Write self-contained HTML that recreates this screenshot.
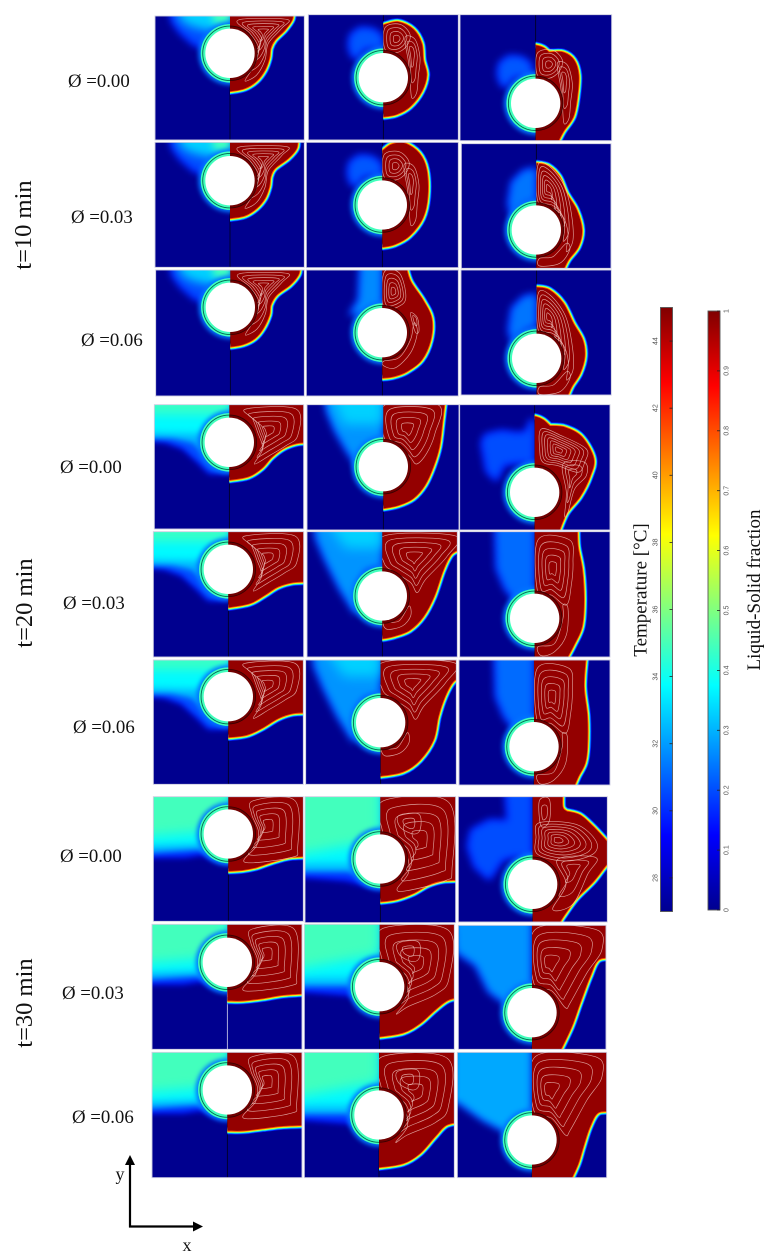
<!DOCTYPE html>
<html lang="en">
<head>
<meta charset="utf-8">
<title>Melting fields around a cylinder</title>
<style>
html,body{margin:0;padding:0;background:#fff;width:776px;height:1260px;overflow:hidden}
svg{display:block}
text{font-family:"Liberation Serif",serif;fill:#111}
.tick{font-family:"Liberation Sans",sans-serif;font-size:7px;fill:#555}
</style>
</head>
<body>
<svg id="figure" xmlns="http://www.w3.org/2000/svg" width="776" height="1260" viewBox="0 0 776 1260">
  <defs id="defs"></defs>
  <g id="panels" style="filter:blur(0.35px)"></g>
  <g id="labels"></g>
  <g id="bars"></g>
  <g>
    <line x1="130" y1="1227.5" x2="130" y2="1162" stroke="#000" stroke-width="2.2"/>
    <polygon points="130,1155 135,1165 125,1165" fill="#000"/>
    <line x1="129" y1="1226.5" x2="195" y2="1226.5" stroke="#000" stroke-width="2.2"/>
    <polygon points="203,1226.5 193,1221.5 193,1231.5" fill="#000"/>
    <text x="120" y="1180" font-size="18" text-anchor="middle">y</text>
    <text x="187" y="1251" font-size="18" text-anchor="middle">x</text>
  </g>
</svg>
<script>
// ---- labels and ticks ----
const phiLabels = ["Ø =0.00","Ø =0.03","Ø =0.06","Ø =0.00","Ø =0.03","Ø =0.06","Ø =0.00","Ø =0.03","Ø =0.06"];
const timeLabels = ["t=10 min","t=20 min","t=30 min"];
const temperatureTicks = [44,42,40,38,36,34,32,30,28];
const fractionTicks = [0,0.1,0.2,0.3,0.4,0.5,0.6,0.7,0.8,0.9,1];
const temperatureDomain = [27,45];
const fractionDomain = [0,1];

// ---- field geometry, in field units (3 units = 1 px), one block of nine panels per time step ----
const blockOrigins = [[150,10],[150,400],[150,790]];
const panelExtents = [
 [15,18,463,390],[475,14,925,390],[930,14,1385,392],
 [15,397,463,772],[469,397,925,773],[934,401,1383,775],
 [17,780,463,1158],[469,780,925,1158],[933,780,1384,1155],
 [13,14,461,387],[471,14,927,390],[929,14,1380,390],
 [10,395,461,771],[471,395,922,771],[929,395,1380,771],
 [10,780,460,1153],[467,780,919,1153],[927,780,1380,1155],
 [10,20,460,394],[465,20,917,398],[925,20,1372,396],
 [6,403,456,778],[463,403,913,778],[925,406,1368,778],
 [6,787,456,1163],[463,787,913,1163],[922,787,1370,1163]
];
const cylinderCentres = [
 [240,130],[700,203],[1157,280],
 [240,512],[697,585],[1159,660],
 [241,892],[697,968],[1160,1045],
 [238,127],[700,200],[1154,277],
 [235,508],[697,588],[1154,655],
 [235,890],[692,968],[1152,1040],
 [235,132],[691,207],[1148,283],
 [232,517],[689,590],[1146,668],
 [232,900],[687,975],[1146,1050]
];
const cylinderRadius = 74;

// melt front outlines (third value marks a sharp corner)
const meltFronts = [
 [[220,0,1],[428,0,1],[427,28],[405,60],[375,90],[362,115],[358,145],[345,180],[320,213],[285,235],[240,244],[220,245,1]],
 [[680,47,1],[700,45],[745,36],[790,58],[815,100],[820,150],[830,195],[815,245],[780,290],[740,313],[700,320],[680,320,1]],
 [[1137,106,1],[1158,106],[1180,113],[1197,127,1],[1240,127],[1272,150],[1286,195],[1282,260],[1270,320],[1240,365],[1222,400,1],[1137,400,1]],
 [[220,385,1],[443,385,1],[440,415],[415,445],[375,475],[362,500],[358,530],[345,565],[320,595],[285,617],[240,625],[220,626,1]],
 [[677,425,1],[697,422],[725,403],[765,400],[808,430],[830,480],[833,560],[818,625],[778,678],[735,703],[697,711],[677,711,1]],
 [[1139,460,1],[1159,460],[1195,468],[1228,500],[1250,550],[1280,600],[1296,660],[1285,710],[1255,750],[1238,785,1],[1139,785,1]],
 [[221,770,1],[450,770,1],[445,795],[420,825],[380,855],[362,885],[358,915],[340,955],[315,985],[280,1003],[241,1010],[221,1010,1]],
 [[677,770,1],[768,770,1],[782,815],[820,872],[845,925],[842,990],[815,1050],[770,1085],[730,1100],[697,1104],[677,1104,1]],
 [[1140,832,1],[1160,832],[1198,840],[1240,880],[1270,940],[1298,990],[1304,1040],[1290,1090],[1265,1130],[1250,1165,1],[1140,1165,1]],
 [[218,0,1],[480,0,1],[480,127,1],[440,130],[400,145],[365,172],[335,205],[295,230],[238,240],[218,240,1]],
 [[680,0,1],[885,0,1],[878,60],[868,140],[850,200],[825,255],[790,295],[745,316],[700,325],[680,325,1]],
 [[1134,50,1],[1156,50],[1180,60],[1200,78,1],[1245,82],[1295,110],[1331,175],[1320,230],[1290,290],[1250,340],[1225,400,1],[1134,400,1]],
 [[215,385,1],[480,385,1],[480,545,1],[430,547],[385,560],[345,585],[300,610],[235,622],[215,622,1]],
 [[677,385,1],[940,385,1],[940,445,1],[905,462],[880,510],[852,590],[820,650],[780,690],[735,708],[697,716],[677,716,1]],
 [[1134,385,1],[1282,385,1],[1284,440],[1297,510],[1302,600],[1296,680],[1272,735],[1248,780,1],[1134,780,1]],
 [[215,770,1],[480,770,1],[480,938,1],[430,940],[385,955],[335,985],[290,1005],[235,1012],[215,1012,1]],
 [[672,770,1],[940,770,1],[940,830,1],[910,845],[885,890],[865,950],[850,1020],[810,1080],[760,1115],[692,1128],[672,1128,1]],
 [[1132,770,1],[1308,770,1],[1302,860],[1312,950],[1312,1040],[1305,1090],[1285,1130],[1272,1160,1],[1132,1160,1]],
 [[215,0,1],[480,0,1],[480,199,1],[420,202],[370,215],[320,232],[280,240],[235,243],[215,243,1]],
 [[671,0,1],[940,0,1],[940,270,1],[880,272],[835,285],[790,310],[740,328],[691,335],[671,335,1]],
 [[1128,0,1],[1238,0,1],[1238,50],[1250,64,1],[1290,75],[1330,110],[1372,155,1],[1390,170,1],[1390,215,1],[1372,222],[1330,275],[1280,325],[1240,380],[1222,410,1],[1128,410,1]],
 [[212,385,1],[480,385,1],[480,610,1],[400,615],[340,625],[280,632],[232,632],[212,632,1]],
 [[669,385,1],[940,385,1],[940,620,1],[895,630],[855,660],[810,700],[760,728],[689,740],[669,740,1]],
 [[1126,385,1],[1390,385,1],[1390,503,1],[1345,510],[1320,560],[1290,640],[1265,710],[1232,780,1],[1126,780,1]],
 [[212,770,1],[480,770,1],[480,1005,1],[400,1008],[340,1015],[280,1022],[232,1022],[212,1022,1]],
 [[667,770,1],[940,770,1],[940,995,1],[890,1005],[855,1040],[810,1090],[760,1120],[687,1132],[667,1132,1]],
 [[1126,770,1],[1390,770,1],[1390,965,1],[1345,968],[1320,1010],[1300,1070],[1285,1120],[1265,1165,1],[1126,1165,1]]
];

// temperature plumes: each layer = [colour level 0..1, softness, outline relative to divider and panel top]
const plumeShapes = [
 [[0.2,4,[[-185,-60],[0,-60],[0,90],[-70,100],[-110,85],[-150,50],[-175,15]]],[0.33,5,[[-160,-60],[0,-60],[0,40],[-60,45],[-115,32],[-150,12]]],[0.44,4,[[-75,-60],[0,-60],[0,28],[-45,26]]]],
 [[0.21,4,[[-105,95],[-100,60],[-70,38],[-30,42],[-5,60],[0,85],[0,105],[-40,100],[-65,110],[-75,135],[-95,125]]]],
 [[0.24,4,[[0,72],[-40,80],[-75,115],[-85,180],[-75,220],[-30,180],[0,170]]]],
 [[0.26,4,[[-65,-60],[0,-60],[0,110],[-30,130],[-100,135],[-85,110],[-72,90]]]],
 [[0.2,3,[[-260,-60],[0,-60],[0,205],[-60,205],[-95,170],[-140,130],[-190,112],[-260,105]]],[0.3,3,[[-260,-60],[0,-60],[0,150],[-70,150],[-110,115],[-170,100],[-260,98]]],[0.37,4,[[-260,-60],[0,-60],[0,70],[-100,88],[-260,85]]],[0.43,5,[[-260,-60],[0,-60],[0,30],[-130,30],[-260,30]]]],
 [[0.27,4,[[-180,-60],[0,-60],[0,130],[-70,200],[-110,140],[-145,80],[-170,20]]],[0.33,6,[[-170,-60],[0,-60],[0,60],[-120,60]]]],
 [[0.2,4,[[-160,115],[-150,90],[-100,78],[-50,85],[-25,80],[-15,48],[0,45],[0,180],[-40,175],[-90,180],[-115,230],[-145,200]]]],
 [[0.2,4,[[-195,150],[-185,100],[-130,70],[-75,72],[-85,-60],[0,-60],[0,185],[-50,180],[-90,190],[-130,250],[-175,210]]]],
 [[0.27,4,[[-210,-60],[0,-60],[0,110],[-50,120],[-80,250],[-130,170],[-170,90],[-200,20]]],[0.33,6,[[-190,-60],[0,-60],[0,50],[-110,50]]]],
 [[0.23,4,[[-120,-60],[0,-60],[0,185],[-55,215],[-90,170],[-115,110]]]],
 [[0.18,3,[[-260,-60],[0,-60],[0,200],[-40,190],[-80,172],[-130,180],[-260,180]]],[0.29,3,[[-260,-60],[0,-60],[0,185],[-50,175],[-90,158],[-260,170]]],[0.37,4,[[-260,-60],[0,-60],[0,140],[-90,145],[-260,150]]],[0.44,6,[[-260,-60],[0,-60],[0,100],[-260,120]]]],
 [[0.18,3,[[-260,-90],[0,-90],[0,275],[-45,265],[-100,250],[-260,238]]],[0.29,3,[[-260,-90],[0,-90],[0,250],[-50,240],[-100,225],[-260,225]]],[0.37,5,[[-260,-90],[0,-90],[0,195],[-90,205],[-260,205]]],[0.44,6,[[-260,-90],[0,-90],[0,130],[-260,175]]]],
 [[0.27,4,[[-240,-60],[0,-60],[0,185],[-60,250],[-130,200],[-170,120],[-230,80]]]],
 [[0.29,4,[[-240,-60],[0,-60],[0,185],[-60,250],[-146,205],[-224,150],[-240,150]]]]
];
const plumeUse = [
 [0,0,0],[1,0,0],[1,-10,85],
 [0,0,0],[1,0,0],[2,0,0],
 [0,0,0],[3,0,0],[2,0,-1],
 [4,0,0],[5,0,0],[6,0,0],
 [4,0,0],[8,0,0],[9,0,0],
 [4,0,0],[8,0,0],[9,0,0],
 [10,0,0],[11,0,0],[7,0,0],
 [10,0,-3],[11,0,-40],[12,0,0],
 [10,0,0],[11,0,-40],[13,0,0]
];

// streamline cells: [core, loop count, outer loop relative to the cylinder centre]
const streamShapes = [
 [[[100,-65],5,[[25,-100],[170,-102],[155,-75],[115,-30],[105,20],[80,65],[45,83],[65,50],[80,20],[85,-20],[60,-60]]]],
 [[[40,-116],4,[[5,-150],[50,-160],[80,-130],[70,-95],[40,-75],[5,-85]]],[[85,-78],3,[[65,-120],[95,-115],[110,-60],[105,-5],[100,45],[85,60],[80,0],[75,-50]]]],
 [[[36,-123],6,[[5,-195],[40,-190],[85,-130],[105,-50],[110,30],[90,65],[95,10],[80,-40],[50,-65],[5,-85]]],[[50,95],1,[[10,85],[50,80],[90,40],[100,60],[70,100],[10,108]]]],
 [[[33,-123],5,[[5,-180],[50,-180],[70,-120],[60,-85],[5,-75]]],[[98,-43],2,[[85,-60],[105,-45],[110,-5],[100,0],[90,-30]]],[[60,60],1,[[5,85],[50,75],[85,20],[95,-30],[105,0],[85,60],[40,105],[5,100]]]],
 [[[115,-35],5,[[50,-100],[200,-100],[205,-20],[170,10],[120,40],[75,65],[100,20],[85,-30],[70,-70]]]],
 [[[70,-115],5,[[5,-185],[165,-185],[155,-100],[130,-40],[100,-8],[80,-30],[50,-60],[5,-80]]]],
 [[[93,-118],5,[[5,-180],[220,-180],[195,-120],[130,-50],[105,-10],[85,-40],[40,-70],[5,-100]]],[[50,90],1,[[5,80],[50,75],[80,30],[85,60],[60,90],[15,100]]]],
 [[[71,-127],7,[[20,-190],[80,-170],[155,-130],[150,-90],[130,-60],[70,-80],[25,-90],[15,-130]]],[[111,-57],3,[[85,-85],[150,-90],[155,-50],[120,-10],[100,60],[90,70],[95,0]]]],
 [[[53,-150],5,[[10,-235],[105,-235],[115,-170],[110,-100],[95,-40],[50,-70],[10,-75]]],[[60,60],1,[[10,85],[60,75],[85,0],[85,-40],[100,-30],[95,50],[60,100],[20,112]]]],
 [[[115,-27],5,[[75,-100],[200,-100],[208,40],[190,70],[50,85],[85,35],[90,-10],[70,-60]]]],
 [[[120,-60],5,[[10,-175],[205,-170],[215,30],[195,65],[80,95],[50,90],[85,40],[75,-20],[30,-60],[5,-90]]],[[85,-107],2,[[55,-130],[115,-135],[120,-90],[100,-75],[60,-95]]]],
 [[[74,-133],7,[[20,-185],[130,-180],[190,-130],[180,-90],[100,-70],[15,-90],[10,-140]]],[[117,-48],3,[[75,-75],[190,-80],[165,-30],[120,60],[60,75],[100,0]]],[[35,-215],2,[[20,-250],[50,-255],[50,-190],[25,-175]]]],
 [[[49,-150],5,[[10,-250],[190,-250],[210,-190],[165,-120],[115,-30],[100,-15],[60,-65],[5,-90]]]],
 [[[110,-70],5,[[10,-175],[205,-170],[208,-25],[170,22],[85,60],[50,82],[85,35],[75,-20],[30,-60],[5,-90]]],[[85,-107],2,[[55,-130],[115,-135],[120,-90],[100,-75],[60,-95]]]]
];
const streamUse = [0,1,1, 0,1,2, 0,3,2, 4,5,7, 4,6,8, 4,6,8, 9,10,11, 9,13,12, 9,13,12];
const whiteDividerPanels = [21];

// ---- helpers ----
const SVGNS = "http://www.w3.org/2000/svg";
function mk(tag, parent, attrs){
  const el = document.createElementNS(SVGNS, tag);
  for (const k in attrs) el.setAttribute(k, attrs[k]);
  if (parent) parent.appendChild(el);
  return el;
}
function jet(t){
  t = Math.max(0, Math.min(1, t));
  const stops = [[0,0,0,143],[0.125,0,0,255],[0.375,0,255,255],[0.625,255,255,0],[0.875,255,0,0],[1,128,0,0]];
  for (let i = 1; i < stops.length; i++){
    if (t <= stops[i][0]){
      const a = stops[i-1], b = stops[i], f = (t-a[0])/(b[0]-a[0]);
      return "rgb(" + [1,2,3].map(c => Math.round(a[c]+(b[c]-a[c])*f)).join(",") + ")";
    }
  }
  return "rgb(128,0,0)";
}
// axis functions: field units -> page pixels
function xAxis(block, u){ return blockOrigins[block][0] + u/3; }
function yAxis(block, v){ return blockOrigins[block][1] + v/3; }
function fmt(n){ return n.toFixed(2); }
function spline(p, closed){
  const n = p.length;
  let d = "";
  if (closed){
    d = "M" + fmt(p[0][0]) + " " + fmt(p[0][1]);
    for (let i = 0; i < n; i++){
      const a = p[(i-1+n)%n], b = p[i], c = p[(i+1)%n], e = p[(i+2)%n];
      d += "C" + fmt(b[0]+(c[0]-a[0])/6) + " " + fmt(b[1]+(c[1]-a[1])/6) + " " + fmt(c[0]-(e[0]-b[0])/6) + " " + fmt(c[1]-(e[1]-b[1])/6) + " " + fmt(c[0]) + " " + fmt(c[1]);
    }
    return d + "Z";
  }
  // open loop with sharp corners marked by a third value
  d = "M" + fmt(p[0][0]) + " " + fmt(p[0][1]);
  let start = 0;
  for (let i = 1; i < n; i++){
    if (p[i][2] || i === n-1){
      for (let k = start; k < i; k++){
        const b = p[k], c = p[k+1];
        const a = k === start ? b : p[k-1];
        const e = k+1 === i ? c : p[k+2];
        d += "C" + fmt(b[0]+(c[0]-a[0])/6) + " " + fmt(b[1]+(c[1]-a[1])/6) + " " + fmt(c[0]-(e[0]-b[0])/6) + " " + fmt(c[1]-(e[1]-b[1])/6) + " " + fmt(c[0]) + " " + fmt(c[1]);
      }
      start = i;
    }
  }
  return d + "Z";
}

// ---- panels ----
const defs = document.getElementById("defs");
const panelsRoot = document.getElementById("panels");
const frontBands = [[7.5,0.15],[6,0.3],[4.6,0.45],[3.2,0.62],[1.8,0.8]];

panelExtents.forEach(function(box, i){
  const block = Math.floor(i/9);
  const row = Math.floor(i/3) + 1, col = i%3 + 1;
  const x0 = xAxis(block, box[0]), y0 = yAxis(block, box[1]);
  const x1 = xAxis(block, box[2]), y1 = yAxis(block, box[3]);
  const div = cylinderCentres[i][0], cyU = cylinderCentres[i][1];
  const dx = xAxis(block, div), cy = yAxis(block, cyU);
  const r = cylinderRadius/3;

  const cl = mk("clipPath", defs, {id:"cl"+i}); mk("rect", cl, {x:x0, y:y0, width:dx-x0, height:y1-y0});
  const cr = mk("clipPath", defs, {id:"cr"+i}); mk("rect", cr, {x:dx, y:y0, width:x1-dx, height:y1-y0});

  const panel = mk("g", panelsRoot, {});
  
  

  const bg = mk("rect", panel, {x:x0, y:y0, width:x1-x0, height:y1-y0, fill:jet(0)});
  
  

  const dividerLine = mk("line", panel, {x1:dx, y1:y0, x2:dx, y2:y1, stroke: whiteDividerPanels.indexOf(i) >= 0 ? "#d8d8f0" : "#000018", "stroke-width":0.8});
  
  

  // left half: temperature
  const left = mk("g", panel, {"clip-path":"url(#cl"+i+")"});
  
  
  const use = plumeUse[i];
  const layers = plumeShapes[use[0]];
  const topU = box[1];
  const toPts = shape => shape.map(q => [xAxis(block, div+q[0]+use[1]), yAxis(block, topU+q[1]+use[2])]);
  const glow = mk("path", left, {d:spline(toPts(layers[0][2]).map(q=>[q[0],q[1],1]), false), fill:jet(0.12)});
  glow.style.filter = "blur(4px)";
  layers.forEach(function(layer){
    const p = mk("path", left, {d:spline(toPts(layer[2]).map(q=>[q[0],q[1],1]), false), fill:jet(layer[0])});
    
    
    p.style.filter = "blur(" + layer[1] + "px)";
  });
  const halo = mk("circle", left, {cx:dx, cy:cy, r:r+7, fill:jet(0.24)});
  halo.style.filter = "blur(2.2px)";
  mk("circle", left, {cx:dx, cy:cy, r:r+4.6, fill:jet(0.44)});
  mk("circle", left, {cx:dx, cy:cy, r:r+2.6, fill:"none", stroke:"#006a50", "stroke-width":0.9});

  // right half: liquid fraction
  const right = mk("g", panel, {"clip-path":"url(#cr"+i+")"});
  
  
  const frontD = spline(meltFronts[i].map(q => [xAxis(block,q[0]), yAxis(block,q[1]), q[2]]), false);
  frontBands.forEach(function(band){
    mk("path", right, {d:frontD, fill:"none", stroke:jet(band[1]), "stroke-width":band[0], "stroke-linejoin":"round"});
  });
  const melt = mk("path", right, {d:frontD, fill:jet(0.98)});
  
  
  streamShapes[streamUse[i]].forEach(function(cell){
    const core = cell[0], count = cell[1], loop = cell[2];
    for (let j = 0; j < count; j++){
      const f = 1 - j/count;
      const pts = loop.map(q => [
        xAxis(block, div + core[0] + (q[0]-core[0])*f),
        yAxis(block, cyU + core[1] + (q[1]-core[1])*f)
      ]);
      const s = mk("path", right, {d:spline(pts, true), fill:"none", stroke:"#f0c8c2", "stroke-width":0.65, opacity:0.8});
      
      
    }
  });
  mk("circle", right, {cx:dx, cy:cy, r:r+2.6, fill:"#700000", stroke:"#380000", "stroke-width":0.8});

  const cyl = mk("circle", panel, {cx:dx, cy:cy, r:r, fill:"#fff"});
  
  

  const frame = mk("rect", panel, {x:x0, y:y0, width:x1-x0, height:y1-y0, fill:"none", stroke:"#cfcfe2", "stroke-width":0.9});
  
  
});

// ---- row and time labels ----
const labelsRoot = document.getElementById("labels");
const phiX = [68,71,81,60,63,73,60,62,72];
const phiY = [87,223,346,473,609,733,862,999,1123];
phiLabels.forEach(function(txt, i){
  const t = mk("text", labelsRoot, {x:phiX[i], y:phiY[i], "font-size":18.8});
  
  
  t.textContent = txt;
});
const timeX = [31,32,32];
const timeY = [225,603,1003];
timeLabels.forEach(function(txt, i){
  const t = mk("text", labelsRoot, {x:timeX[i], y:timeY[i], "font-size":24.5, "text-anchor":"middle", transform:"rotate(-90 "+timeX[i]+" "+timeY[i]+")"});
  
  
  t.textContent = txt;
});

// ---- colour bars ----
const barsRoot = document.getElementById("bars");
const grad = mk("linearGradient", defs, {id:"jetBar", x1:0, y1:1, x2:0, y2:0});
[0,0.125,0.25,0.375,0.5,0.625,0.75,0.875,1].forEach(function(s){
  mk("stop", grad, {offset:s, "stop-color":jet(s)});
});
function drawBar(name, x, w, top, bottom, domain, ticks, labelX, format){
  const y = v => bottom - (v-domain[0])/(domain[1]-domain[0])*(bottom-top);
  const g = mk("g", barsRoot, {});
  
  
  mk("rect", g, {x:x, y:top, width:w, height:bottom-top, fill:"url(#jetBar)", stroke:"#555", "stroke-width":0.9});
  ticks.forEach(function(v){
    const py = y(v);
    const tick = mk("line", g, {x1:x+w-3, y1:py, x2:x+w, y2:py, stroke:"#222", "stroke-width":0.8});
    
    
    const t = mk("text", g, {x:labelX, y:py+2.4, "text-anchor":"middle", class:"tick", transform:"rotate(-90 "+labelX+" "+py+")"});
    
    
    t.textContent = format(v);
  });
}
drawBar("temperature-colorbar", 660.5, 12, 307.5, 911.5, temperatureDomain, temperatureTicks, 655, v => String(v));
drawBar("fraction-colorbar", 708, 12, 311, 910, fractionDomain, fractionTicks, 726, v => String(v));

const tTitle = mk("text", barsRoot, {x:646.5, y:590, "font-size":19, "text-anchor":"middle", transform:"rotate(-90 646.5 590)"});


tTitle.textContent = "Temperature [°C]";
const fTitle = mk("text", barsRoot, {x:760, y:590, "font-size":19, "text-anchor":"middle", transform:"rotate(-90 760 590)"});


fTitle.textContent = "Liquid-Solid fraction";
</script>
</body>
</html>
